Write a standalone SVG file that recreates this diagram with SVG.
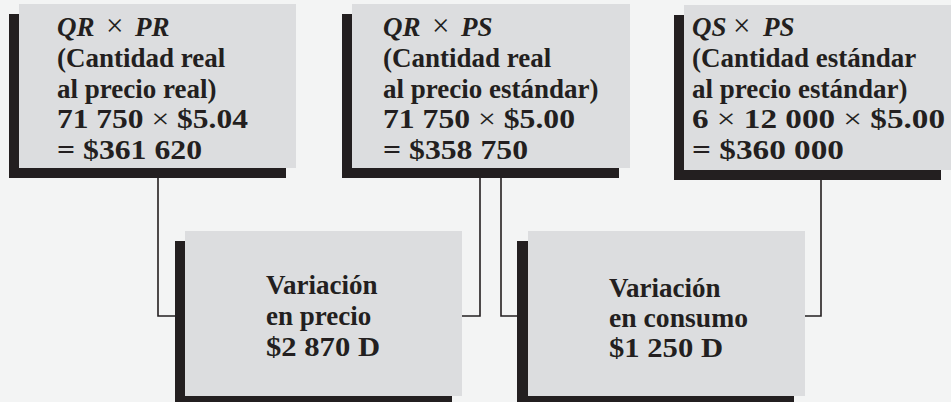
<svg xmlns="http://www.w3.org/2000/svg" width="951" height="402" viewBox="0 0 951 402">
<style>
.bg{fill:#f3f4f4}
.box{fill:#dcdddf}
.sh{fill:#231f20}
.ln{fill:none;stroke:#231f20;stroke-width:1.6}
text{font-family:"Liberation Serif","Times New Roman",serif;font-weight:bold;font-size:27px;fill:#231f20}
.it{font-style:italic}
.x{font-weight:normal}
.xb{font-weight:normal;font-size:31px}
</style>
<rect class="bg" x="0" y="0" width="951" height="402"/>
<g id="connectors">
<polyline class="ln" points="158,178 158,316 176,316"/>
<polyline class="ln" points="480,178 480,316 462,316"/>
<polyline class="ln" points="501,178 501,316 518,316"/>
<polyline class="ln" points="821,180 821,316 805,316"/>
</g>
<g id="box1">
<rect class="sh" x="9" y="14" width="277" height="164"/>
<rect class="box" x="19" y="4" width="277" height="164"/>
<text y="36"><tspan class="it" x="57">QR</tspan><tspan class="xb" x="106">×</tspan><tspan class="it" x="135">PR</tspan></text>
<text x="57" y="67">(Cantidad real</text>
<text x="57" y="98">al precio real)</text>
<text x="57" y="128" textLength="191" lengthAdjust="spacingAndGlyphs">71 750 <tspan class="x">×</tspan> $5.04</text>
<text x="57" y="159" textLength="145" lengthAdjust="spacingAndGlyphs">= $361 620</text>
</g>
<g id="box2">
<rect class="sh" x="342" y="14" width="277" height="164"/>
<rect class="box" x="352" y="4" width="278" height="164"/>
<text y="36"><tspan class="it" x="383">QR</tspan><tspan class="xb" x="432">×</tspan><tspan class="it" x="461">PS</tspan></text>
<text x="383" y="67">(Cantidad real</text>
<text x="383" y="98">al precio estándar)</text>
<text x="383" y="128" textLength="192" lengthAdjust="spacingAndGlyphs">71 750 <tspan class="x">×</tspan> $5.00</text>
<text x="383" y="159" textLength="145" lengthAdjust="spacingAndGlyphs">= $358 750</text>
</g>
<g id="box3">
<rect class="sh" x="674" y="15" width="267" height="165"/>
<rect class="box" x="684" y="5" width="267" height="165"/>
<text y="36"><tspan class="it" x="692">QS</tspan><tspan class="xb" x="733">×</tspan><tspan class="it" x="763">PS</tspan></text>
<text x="692" y="67">(Cantidad estándar</text>
<text x="692" y="98">al precio estándar)</text>
<text x="692" y="128" textLength="253" lengthAdjust="spacingAndGlyphs">6 <tspan class="x">×</tspan> 12 000 <tspan class="x">×</tspan> $5.00</text>
<text x="692" y="159" textLength="152" lengthAdjust="spacingAndGlyphs">= $360 000</text>
</g>
<g id="box4">
<rect class="sh" x="175" y="241" width="277" height="165"/>
<rect class="box" x="185" y="231" width="277" height="165"/>
<text x="266" y="294">Variación</text>
<text x="266" y="325">en precio</text>
<text x="266" y="356" textLength="114" lengthAdjust="spacingAndGlyphs">$2 870 D</text>
</g>
<g id="box5">
<rect class="sh" x="517" y="241" width="277" height="165"/>
<rect class="box" x="528" y="231" width="277" height="165"/>
<text x="609" y="297">Variación</text>
<text x="609" y="327" textLength="139" lengthAdjust="spacingAndGlyphs">en consumo</text>
<text x="609" y="357" textLength="114" lengthAdjust="spacingAndGlyphs">$1 250 D</text>
</g>
</svg>
